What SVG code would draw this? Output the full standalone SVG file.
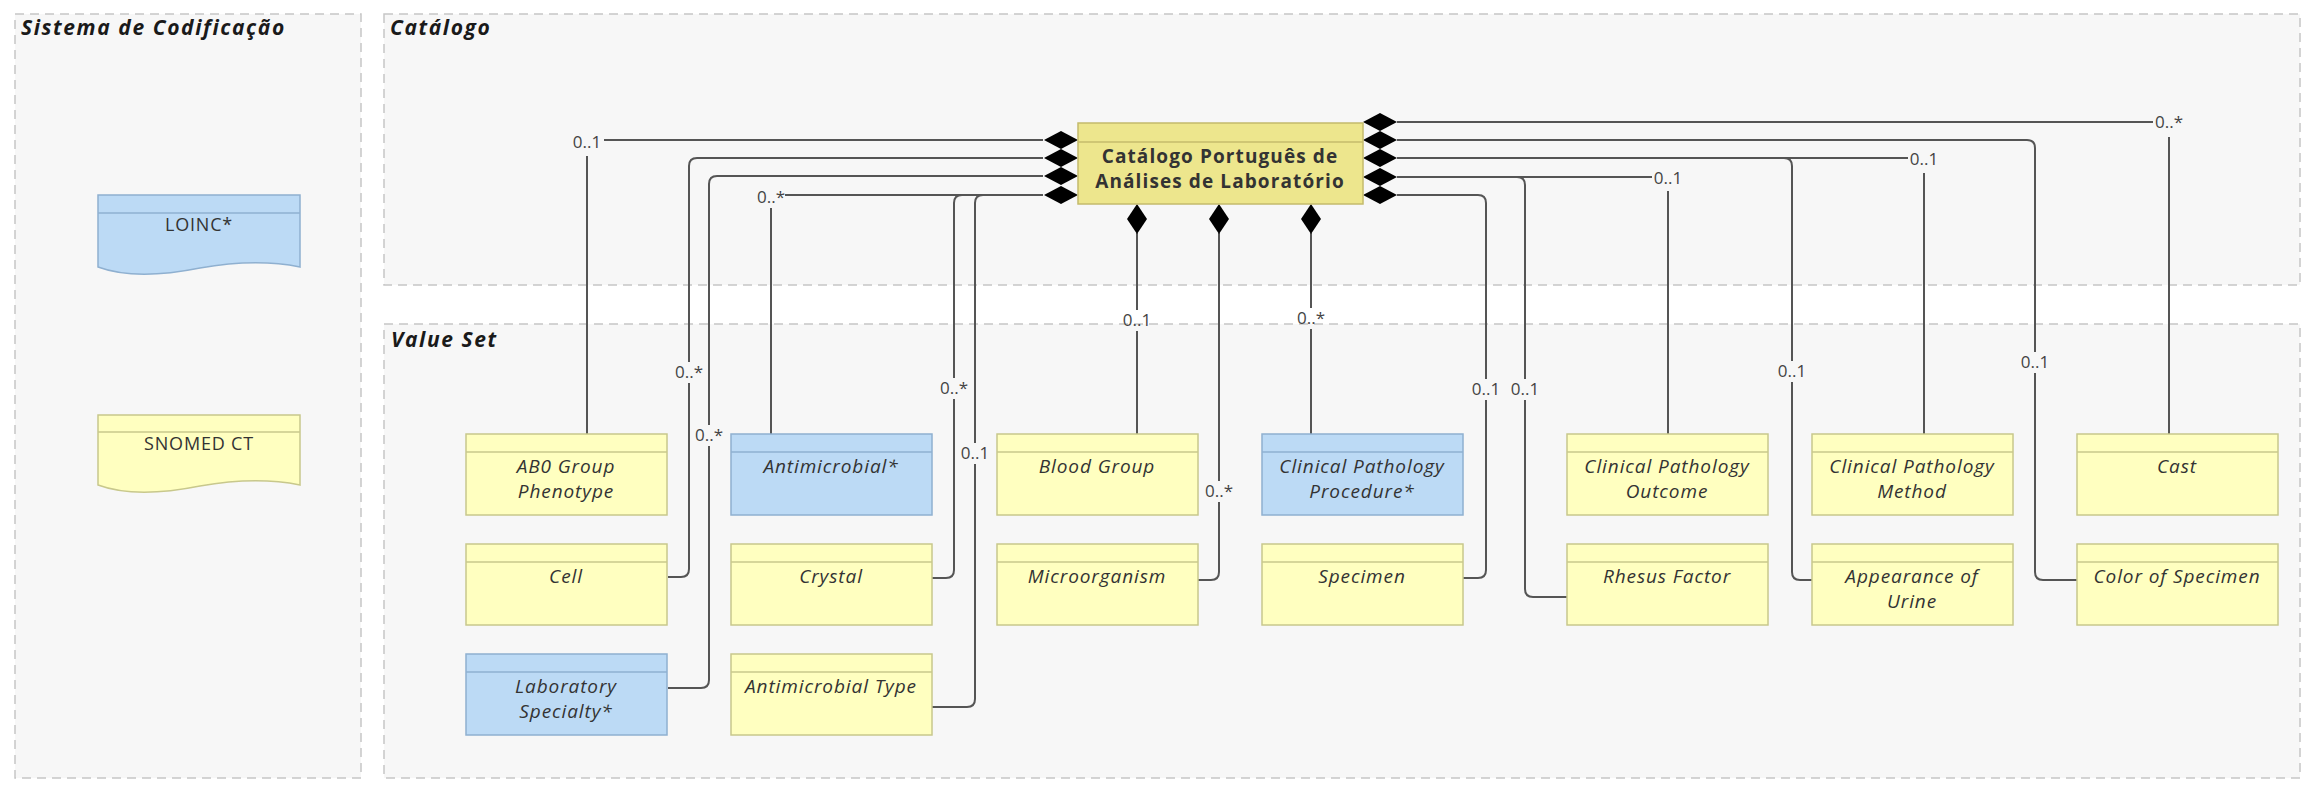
<svg xmlns="http://www.w3.org/2000/svg" width="2305" height="786" viewBox="0 0 2305 786">
<style>
.panel{fill:#f7f7f7;stroke:#c6c6c6;stroke-width:1.5;stroke-dasharray:9 6}
.ptitle{font-family:"Open Sans","Liberation Sans",sans-serif;font-size:21px;font-weight:bold;font-style:italic;fill:#1a1a1a;letter-spacing:1.6px}
.yel{fill:#ffffc0;stroke:#c8c88c;stroke-width:1.5}
.blu{fill:#bcdaf5;stroke:#8fb0d0;stroke-width:1.5}
.main{fill:#ede68d;stroke:#c4bb6c;stroke-width:1.5}
.divy{stroke:#c8c88c;stroke-width:1.5}
.divb{stroke:#8fb0d0;stroke-width:1.5}
.divm{stroke:#c4bb6c;stroke-width:1.5}
.bt{font-family:"Open Sans","Liberation Sans",sans-serif;font-size:19px;font-style:italic;fill:#333;text-anchor:middle;letter-spacing:0.9px}
.dt{font-family:"Open Sans","Liberation Sans",sans-serif;font-size:18px;fill:#333;text-anchor:middle;letter-spacing:0.8px}
.mt{font-family:"Open Sans","Liberation Sans",sans-serif;font-size:19px;font-weight:bold;fill:#333;text-anchor:middle;letter-spacing:1.1px}
.ln{fill:none;stroke:#555;stroke-width:2}
.lbl{font-family:"Open Sans","Liberation Sans",sans-serif;font-size:17px;fill:#444;text-anchor:middle}
.dia{fill:#000}
</style>
<defs>
<polygon id="dh" points="-17,0 0,-9 17,0 0,9"/>
<polygon id="dv" points="0,-15 10,0 0,15 -10,0"/>
</defs>

<g id="panels">
<rect class="panel" x="15" y="14" width="346" height="764"/>
<text class="ptitle" x="21" y="35">Sistema de Codificação</text>
<rect class="panel" x="384" y="14" width="1916" height="271"/>
<text class="ptitle" x="390" y="35">Catálogo</text>
<rect class="panel" x="384" y="324" width="1916" height="454"/>
<text class="ptitle" x="391" y="347">Value Set</text>
</g>

<g id="connectors">
<path class="ln" d="M1043,140 H604 M587,156 V434"/>
<path class="ln" d="M1043,158 H697 Q689,158 689,166 V362 M689,383 V569 Q689,577 681,577 H668"/>
<path class="ln" d="M1043,176 H717 Q709,176 709,184 V425 M709,446 V680 Q709,688 701,688 H668"/>
<path class="ln" d="M1043,195 H785 M771,208 V434"/>
<path class="ln" d="M1043,195 H962 Q954,195 954,203 V378 M954,399 V570 Q954,578 946,578 H932"/>
<path class="ln" d="M1043,195 H983 Q975,195 975,203 V443 M975,464 V699 Q975,707 967,707 H932"/>
<path class="ln" d="M1137,233 V310 M1137,331 V434"/>
<path class="ln" d="M1219,233 V481 M1219,502 V572 Q1219,580 1211,580 H1198"/>
<path class="ln" d="M1311,233 V308 M1311,329 V434"/>
<path class="ln" d="M1397,122 H2153 M2169,137 V434"/>
<path class="ln" d="M1397,140 H2027 Q2035,140 2035,148 V352 M2035,373 V572 Q2035,580 2043,580 H2077"/>
<path class="ln" d="M1397,158 H1908 M1924,173 V434"/>
<path class="ln" d="M1397,158 H1784 Q1792,158 1792,166 V361 M1792,382 V572 Q1792,580 1800,580 H1812"/>
<path class="ln" d="M1397,177 H1652 M1668,191 V434"/>
<path class="ln" d="M1397,177 H1517 Q1525,177 1525,185 V379 M1525,400 V589 Q1525,597 1533,597 H1567"/>
<path class="ln" d="M1397,195 H1478 Q1486,195 1486,203 V379 M1486,400 V570 Q1486,578 1478,578 H1463"/>
<use href="#dh" class="dia" x="1061" y="140"/>
<use href="#dh" class="dia" x="1061" y="158"/>
<use href="#dh" class="dia" x="1061" y="176"/>
<use href="#dh" class="dia" x="1061" y="195"/>
<use href="#dh" class="dia" x="1380" y="122"/>
<use href="#dh" class="dia" x="1380" y="140"/>
<use href="#dh" class="dia" x="1380" y="158"/>
<use href="#dh" class="dia" x="1380" y="177"/>
<use href="#dh" class="dia" x="1380" y="195"/>
<use href="#dv" class="dia" x="1137" y="219"/>
<use href="#dv" class="dia" x="1219" y="219"/>
<use href="#dv" class="dia" x="1311" y="219"/>
<text class="lbl" x="587" y="148">0..1</text>
<text class="lbl" x="689" y="378">0..*</text>
<text class="lbl" x="709" y="441">0..*</text>
<text class="lbl" x="771" y="203">0..*</text>
<text class="lbl" x="954" y="394">0..*</text>
<text class="lbl" x="975" y="459">0..1</text>
<text class="lbl" x="1137" y="326">0..1</text>
<text class="lbl" x="1219" y="497">0..*</text>
<text class="lbl" x="1311" y="324">0..*</text>
<text class="lbl" x="2169" y="128">0..*</text>
<text class="lbl" x="2035" y="368">0..1</text>
<text class="lbl" x="1924" y="165">0..1</text>
<text class="lbl" x="1792" y="377">0..1</text>
<text class="lbl" x="1668" y="184">0..1</text>
<text class="lbl" x="1525" y="395">0..1</text>
<text class="lbl" x="1486" y="395">0..1</text>
</g>

<g id="loinc">
<path class="blu" d="M98,195 H300 V267 C270,261 240,261 200,268 C160,276 125,277 98,267 Z"/>
<line class="divb" x1="98" y1="213" x2="300" y2="213"/>
<text class="dt" x="199" y="231">LOINC*</text>
</g>
<g id="snomed">
<path class="yel" d="M98,415 H300 V485 C270,479 240,479 200,486 C160,494 125,495 98,485 Z"/>
<line class="divy" x1="98" y1="432" x2="300" y2="432"/>
<text class="dt" x="199" y="450">SNOMED CT</text>
</g>

<g id="catalogo">
<rect class="main" x="1078" y="123" width="285" height="81"/>
<line class="divm" x1="1078" y1="142" x2="1363" y2="142"/>
<text class="mt" x="1220" y="163">Catálogo Português de</text>
<text class="mt" x="1220" y="188">Análises de Laboratório</text>
</g>

<g id="abo"><rect class="yel" x="466" y="434" width="201" height="81"/><line class="divy" x1="466" y1="452" x2="667" y2="452"/><text class="bt" x="566" y="473">AB0 Group</text><text class="bt" x="566" y="498">Phenotype</text></g>
<g id="antimicrobial"><rect class="blu" x="731" y="434" width="201" height="81"/><line class="divb" x1="731" y1="452" x2="932" y2="452"/><text class="bt" x="831" y="473">Antimicrobial*</text></g>
<g id="bloodgroup"><rect class="yel" x="997" y="434" width="201" height="81"/><line class="divy" x1="997" y1="452" x2="1198" y2="452"/><text class="bt" x="1097" y="473">Blood Group</text></g>
<g id="procedure"><rect class="blu" x="1262" y="434" width="201" height="81"/><line class="divb" x1="1262" y1="452" x2="1463" y2="452"/><text class="bt" x="1362" y="473">Clinical Pathology</text><text class="bt" x="1362" y="498">Procedure*</text></g>
<g id="outcome"><rect class="yel" x="1567" y="434" width="201" height="81"/><line class="divy" x1="1567" y1="452" x2="1768" y2="452"/><text class="bt" x="1667" y="473">Clinical Pathology</text><text class="bt" x="1667" y="498">Outcome</text></g>
<g id="method"><rect class="yel" x="1812" y="434" width="201" height="81"/><line class="divy" x1="1812" y1="452" x2="2013" y2="452"/><text class="bt" x="1912" y="473">Clinical Pathology</text><text class="bt" x="1912" y="498">Method</text></g>
<g id="cast"><rect class="yel" x="2077" y="434" width="201" height="81"/><line class="divy" x1="2077" y1="452" x2="2278" y2="452"/><text class="bt" x="2177" y="473">Cast</text></g>

<g id="cell"><rect class="yel" x="466" y="544" width="201" height="81"/><line class="divy" x1="466" y1="562" x2="667" y2="562"/><text class="bt" x="566" y="583">Cell</text></g>
<g id="crystal"><rect class="yel" x="731" y="544" width="201" height="81"/><line class="divy" x1="731" y1="562" x2="932" y2="562"/><text class="bt" x="831" y="583">Crystal</text></g>
<g id="microorganism"><rect class="yel" x="997" y="544" width="201" height="81"/><line class="divy" x1="997" y1="562" x2="1198" y2="562"/><text class="bt" x="1097" y="583">Microorganism</text></g>
<g id="specimen"><rect class="yel" x="1262" y="544" width="201" height="81"/><line class="divy" x1="1262" y1="562" x2="1463" y2="562"/><text class="bt" x="1362" y="583">Specimen</text></g>
<g id="rhesus"><rect class="yel" x="1567" y="544" width="201" height="81"/><line class="divy" x1="1567" y1="562" x2="1768" y2="562"/><text class="bt" x="1667" y="583">Rhesus Factor</text></g>
<g id="urine"><rect class="yel" x="1812" y="544" width="201" height="81"/><line class="divy" x1="1812" y1="562" x2="2013" y2="562"/><text class="bt" x="1912" y="583">Appearance of</text><text class="bt" x="1912" y="608">Urine</text></g>
<g id="colorspecimen"><rect class="yel" x="2077" y="544" width="201" height="81"/><line class="divy" x1="2077" y1="562" x2="2278" y2="562"/><text class="bt" x="2177" y="583">Color of Specimen</text></g>

<g id="labspecialty"><rect class="blu" x="466" y="654" width="201" height="81"/><line class="divb" x1="466" y1="672" x2="667" y2="672"/><text class="bt" x="566" y="693">Laboratory</text><text class="bt" x="566" y="718">Specialty*</text></g>
<g id="antimtype"><rect class="yel" x="731" y="654" width="201" height="81"/><line class="divy" x1="731" y1="672" x2="932" y2="672"/><text class="bt" x="831" y="693">Antimicrobial Type</text></g>
</svg>
